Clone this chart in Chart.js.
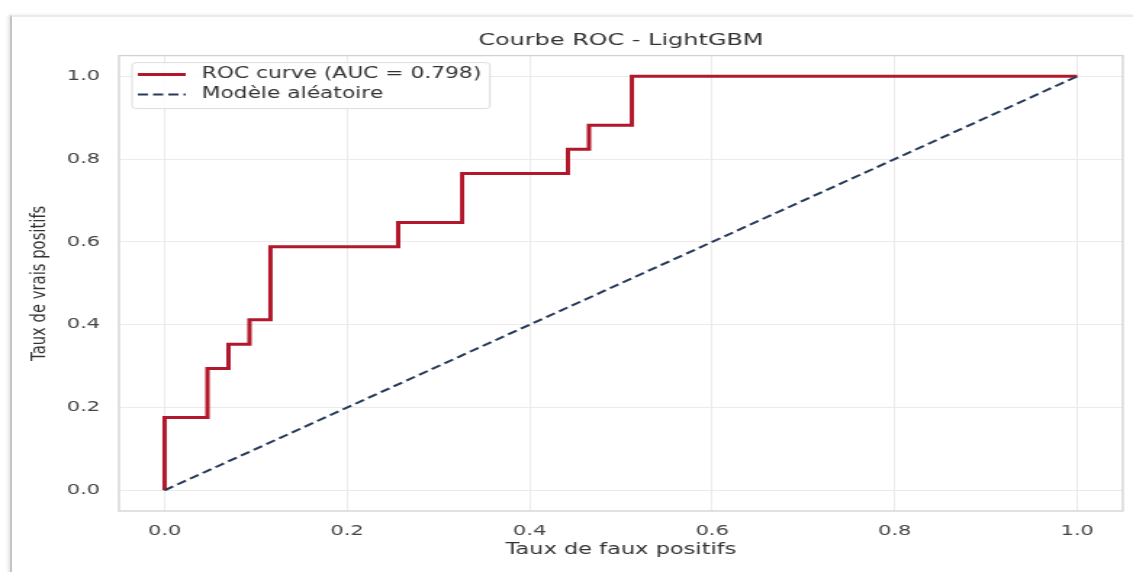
<!DOCTYPE html>
<html>
<head>
<meta charset="utf-8">
<script src="https://cdn.jsdelivr.net/npm/chart.js@4.4.1/dist/chart.umd.min.js"></script>
<style>
	html, body { margin: 0; padding: 0; background: #fff; overflow: hidden; }
	body { width: 1133px; height: 572px; position: relative; }
	#frame {
		position: absolute; left: 10px; top: 15px; width: 1140px; height: 570px;
		border-left: 2px solid #c4c4c4; border-top: 2px solid #ebebeb;
		box-shadow: -2px 0 3px rgba(0, 0, 0, 0.10);
	}
	/* the source picture is a matplotlib figure stretched sideways */
	#wrap {
		position: absolute; left: 0; top: 0; width: 781px; height: 572px;
		transform: scaleX(1.4507); transform-origin: 0 0;
	}
</style>
</head>
<body>
<div id="frame"></div>
<div id="wrap"><canvas id="myChart"></canvas></div>
<script>
// ROC curve points (false positive rate / true positive rate)
const fpr = [0, 0, 0.047, 0.047, 0.070, 0.070, 0.093, 0.093, 0.116, 0.116, 0.256, 0.256,
	0.326, 0.326, 0.442, 0.442, 0.465, 0.465, 0.512, 0.512, 1.0]
const tpr = [0, 0.176, 0.176, 0.294, 0.294, 0.353, 0.353, 0.412, 0.412, 0.588, 0.588, 0.647,
	0.647, 0.765, 0.765, 0.824, 0.824, 0.882, 0.882, 1.0, 1.0]

// random classifier diagonal
const randomX = [0, 1]
const randomY = [0, 1]

const xTicks = [0, 0.2, 0.4, 0.6, 0.8, 1.0]
const yTicks = [0, 0.2, 0.4, 0.6, 0.8, 1.0]

const rocLabel = 'ROC curve (AUC = 0.798)'
const randomLabel = 'Modèle aléatoire'

Chart.defaults.font.family = 'DejaVu Sans'
Chart.defaults.color = '#444'

const toPoints = (xs, ys) => xs.map((x, i) => ({ x, y: ys[i] }))

// frame round the plot area (matplotlib spines on all four sides)
const plotFrame = {
	id: 'plotFrame',
	beforeDatasetsDraw(chart) {
		const { ctx, chartArea: a } = chart
		ctx.save()
		ctx.strokeStyle = '#d2d2d2'
		ctx.lineWidth = 1.3
		ctx.strokeRect(a.left, a.top, a.right - a.left, a.bottom - a.top)
		ctx.restore()
	}
}

// matplotlib-like legend box in the upper left corner
const legendBox = {
	id: 'legendBox',
	afterDatasetsDraw(chart) {
		const { ctx, chartArea: a } = chart
		const left = a.left + 9
		const top = a.top + 7
		const rowHeight = 20
		const sets = chart.data.datasets

		ctx.save()
		ctx.font = '15px "DejaVu Sans"'
		let textWidth = 0
		sets.forEach(ds => { textWidth = Math.max(textWidth, ctx.measureText(ds.label).width) })

		ctx.beginPath()
		ctx.roundRect(left, top, 48 + textWidth + 6, sets.length * rowHeight + 6, 3)
		ctx.fillStyle = 'rgba(255,255,255,0.85)'
		ctx.fill()
		ctx.strokeStyle = '#dcdcdc'
		ctx.lineWidth = 1
		ctx.stroke()

		sets.forEach((ds, i) => {
			const y = top + 12 + i * rowHeight
			ctx.beginPath()
			ctx.setLineDash(ds.borderDash || [])
			ctx.strokeStyle = ds.borderColor
			ctx.lineWidth = ds.borderWidth
			ctx.moveTo(left + 4, y)
			ctx.lineTo(left + 37, y)
			ctx.stroke()
			ctx.setLineDash([])
			ctx.fillStyle = '#333'
			ctx.textBaseline = 'middle'
			ctx.fillText(ds.label, left + 48, y)
		})
		ctx.restore()
	}
}

new Chart(document.getElementById('myChart'), {
	type: 'scatter',
	data: {
		datasets: [
			{
				label: rocLabel,
				data: toPoints(fpr, tpr),
				showLine: true,
				borderColor: '#b2182b',
				borderWidth: 3,
				pointRadius: 0,
				order: 1
			},
			{
				label: randomLabel,
				data: toPoints(randomX, randomY),
				showLine: true,
				borderColor: '#263a5a',
				borderWidth: 2,
				borderDash: [7, 3.5],
				pointRadius: 0,
				order: 0
			}
		]
	},
	options: {
		responsive: true,
		maintainAspectRatio: false,
		animation: false,
		layout: { padding: { left: 0, right: 7, top: 0, bottom: 0 } },
		plugins: {
			legend: { display: false },
			tooltip: { enabled: false },
			title: {
				display: true,
				fullSize: false, // centre over the plot area like matplotlib
				text: 'Courbe ROC - LightGBM',
				color: '#333',
				font: { size: 16.5, weight: 'normal' },
				padding: { top: 30.6, bottom: 5.2 }
			}
		},
		scales: {
			x: {
				type: 'linear',
				min: -0.05,
				max: 1.05,
				afterBuildTicks: s => { s.ticks = xTicks.map(v => ({ value: v })) },
				afterFit: s => { s.height = 61 },
				border: { display: false },
				grid: { color: '#ebebeb', lineWidth: 1, drawTicks: false },
				ticks: { padding: 12, font: { size: 14.5 }, callback: v => v.toFixed(1), maxRotation: 0 },
				title: {
					display: true,
					text: 'Taux de faux positifs',
					color: '#333',
					font: { size: 15.5 },
					padding: { top: 0, bottom: 12.7 }
				}
			},
			y: {
				type: 'linear',
				min: -0.05,
				max: 1.05,
				afterBuildTicks: s => { s.ticks = yTicks.map(v => ({ value: v })) },
				afterFit: s => { s.width = 82 },
				border: { display: false },
				grid: { color: '#ebebeb', lineWidth: 1, drawTicks: false },
				ticks: { padding: 13, font: { size: 14.5 }, callback: v => v.toFixed(1) },
				title: {
					display: true,
					text: 'Taux de vrais positifs',
					color: '#333',
					font: { size: 14.8 },
					padding: { top: 18, bottom: 0 }
				}
			}
		}
	},
	plugins: [plotFrame, legendBox]
})
</script>
</body>
</html>
